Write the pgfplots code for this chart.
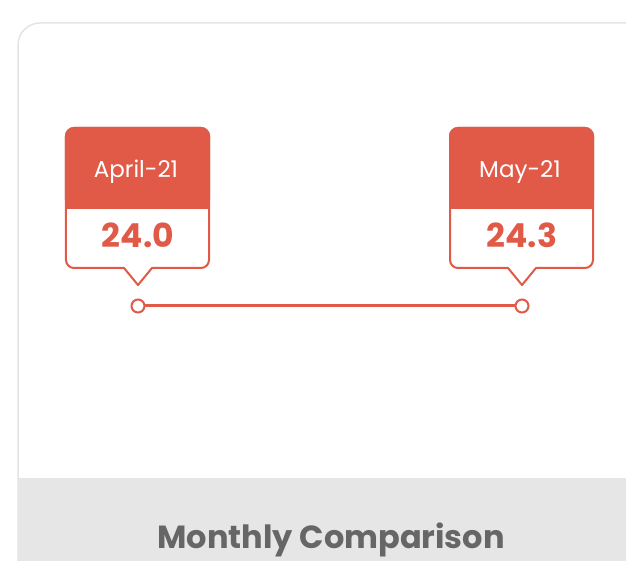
\documentclass[border=0pt]{standalone}
\usepackage{pgfplots}
\usepackage{pgfplotstable}
\pgfplotsset{compat=1.18}
\usepackage{fontspec}
\setmainfont{Poppins}
\definecolor{cred}{HTML}{E05A47}
\definecolor{cgray}{HTML}{E6E6E6}
\definecolor{cborder}{HTML}{E4E4E4}
\definecolor{ctext}{HTML}{666666}

\pgfplotstableread{
x y val month
0 0 24.0 April-21
1 0 24.3 May-21
}\datatable

\begin{document}
\begin{tikzpicture}[x=1pt,y=1pt]
\useasboundingbox (0,0) rectangle (626,560);
\clip (0,0) rectangle (626,560);
\begin{scope}
\clip[rounded corners=22pt] (18,537) rectangle (680,-40);
\fill[white] (18,537) rectangle (680,-40);
\fill[cgray] (18,-40) rectangle (680,82);
\end{scope}
\draw[cborder, line width=1.5pt, rounded corners=22pt] (18,537) rectangle (680,-40);
\node[anchor=base, text=ctext, font=\fontsize{32}{38}\selectfont\bfseries] at (331,12) {Monthly Comparison};

\begin{axis}[
  at={(138pt,254pt)}, anchor=origin,
  scale only axis, width=384pt, height=100pt,
  xmin=0, xmax=1, ymin=-1, ymax=1,
  hide axis, clip=false,
]
% connecting line
\addplot[cred, line width=3pt, no marks] table[x=x, y=y] {\datatable};
% callout shapes and point markers
\addplot[
  scatter, only marks, mark=*, mark size=6.5pt,
  mark options={fill=white, draw=cred, line width=2pt},
  scatter/@pre marker code/.code={%
    \begin{scope}
    \fill[white] (0pt,21pt) -- (-14pt,38pt) -- (-72pt,38pt) -- (-72pt,178pt) -- (71pt,178pt) -- (71pt,38pt) -- (14pt,38pt) -- cycle;
    \fill[cred, rounded corners=8pt] (-72pt,98pt) rectangle (71pt,178pt);
    \fill[cred] (-72pt,98pt) rectangle (71pt,125pt);
    \draw[cred, line width=2pt, line join=round] (0pt,21pt) -- (-14pt,38pt) [rounded corners=8pt] -- (-72pt,38pt) -- (-72pt,178pt) -- (71pt,178pt) -- (71pt,38pt) [sharp corners] -- (14pt,38pt) -- cycle;
  },
  scatter/@post marker code/.code={\end{scope}},
] table[x=x, y=y] {\datatable};
% month labels
\addplot[draw=none, mark=none,
  point meta=explicit symbolic,
  nodes near coords,
  every node near coord/.style={anchor=base, text=white, font=\fontsize{23}{27}\selectfont, inner sep=0pt, xshift=-2pt, yshift=128pt},
] table[x=x, y=y, meta=month] {\datatable};
% value labels
\addplot[draw=none, mark=none,
  point meta=explicit symbolic,
  nodes near coords,
  every node near coord/.style={anchor=base, text=cred, font=\fontsize{33}{38}\selectfont\bfseries, inner sep=0pt, yshift=58pt},
] table[x=x, y=y, meta=val] {\datatable};
\end{axis}
\end{tikzpicture}
\end{document}
